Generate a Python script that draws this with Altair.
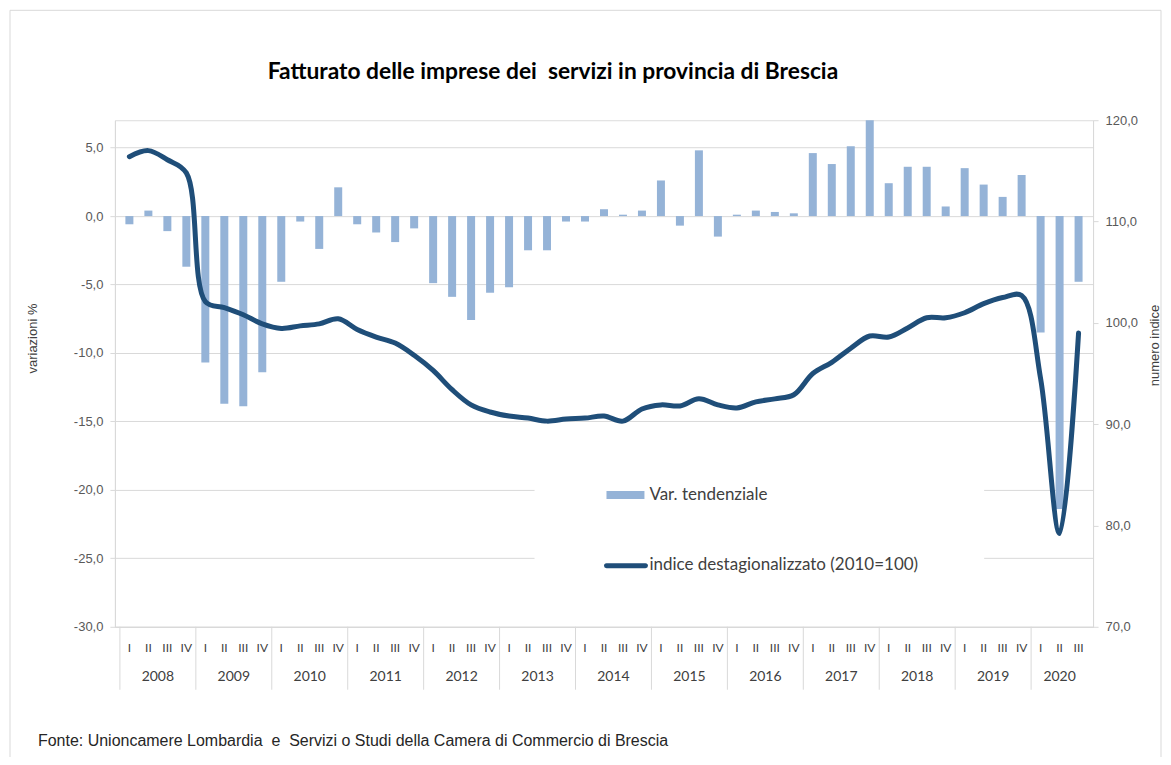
import altair as alt
import pandas as pd

# ---------------- data ----------------
years = [2008, 2009, 2010, 2011, 2012, 2013, 2014, 2015, 2016, 2017, 2018, 2019, 2020]
quarters_per_year = [4, 4, 4, 4, 4, 4, 4, 4, 4, 4, 4, 4, 3]
quarter_names = ["I", "II", "III", "IV"]

var_tendenziale = [
    -0.6, 0.4, -1.1, -3.7,      # 2008
    -10.7, -13.7, -13.9, -11.4,  # 2009
    -4.8, -0.4, -2.4, 2.1,      # 2010
    -0.6, -1.2, -1.9, -0.9,     # 2011
    -4.9, -5.9, -7.6, -5.6,     # 2012
    -5.2, -2.5, -2.5, -0.4,     # 2013
    -0.4, 0.5, 0.1, 0.4,        # 2014
    2.6, -0.7, 4.8, -1.5,       # 2015
    0.1, 0.4, 0.3, 0.2,         # 2016
    4.6, 3.8, 5.1, 7.0,         # 2017
    2.4, 3.6, 3.6, 0.7,         # 2018
    3.5, 2.3, 1.4, 3.0,         # 2019
    -8.5, -21.4, -4.8,          # 2020
]

indice = [
    116.4, 117.0, 116.1, 114.8,   # 2008
    102.1, 101.5, 100.8, 99.9,    # 2009
    99.45, 99.7, 99.9, 100.4,     # 2010
    99.35, 98.6, 98.0, 96.8,      # 2011
    95.3, 93.4, 91.9, 91.2,       # 2012
    90.8, 90.6, 90.3, 90.5,       # 2013
    90.6, 90.8, 90.3, 91.5,       # 2014
    91.9, 91.8, 92.5, 91.9,       # 2015
    91.6, 92.2, 92.5, 92.9,       # 2016
    95.0, 96.1, 97.5, 98.7,       # 2017
    98.6, 99.5, 100.5, 100.5,     # 2018
    101.0, 101.9, 102.5, 102.7,   # 2019
    94.5, 79.2, 99.0,             # 2020
]

NB = "\u00a0"
title_text = "Fatturato delle imprese dei" + NB + " servizi in provincia di Brescia"
source_text = ("Fonte: Unioncamere Lombardia" + NB + " e" + NB
               + " Servizi o Studi della Camera di Commercio di Brescia")
legend_bar = "Var. tendenziale"
legend_line = "indice destagionalizzato (2010=100)"
left_title = "variazioni %"
right_title = "numero indice"

# ---------------- tables ----------------
rows = []
i = 0
for y, nq in zip(years, quarters_per_year):
    for q in range(nq):
        rows.append({"idx": i, "year": y, "q": quarter_names[q],
                     "var": var_tendenziale[i], "ind": indice[i]})
        i += 1
df = pd.DataFrame(rows)
n = len(df)

yrows = []
start = 0
for y, nq in zip(years, quarters_per_year):
    yrows.append({"year": str(y), "center": start + (nq - 1) / 2, "start": start - 0.5})
    start += nq
ydf = pd.DataFrame(yrows)

one = pd.DataFrame([{"a": 1}])

W, H = 979, 507
xs = alt.Scale(domain=[-0.5, n - 0.5], nice=False, zero=False)
GRID = "#D9D9D9"
LAB = "#595959"

num_expr = "(datum.value < 0 ? '-' : '') + replace(format(abs(datum.value), '.1f'), '.', ',')"

left_axis = alt.Axis(values=[-30, -25, -20, -15, -10, -5, 0, 5], labelExpr=num_expr,
                     grid=True, gridColor=GRID, domainColor=GRID, tickColor=GRID,
                     tickSize=5, labelPadding=7, labelFont="Liberation Sans",
                     labelFontSize=13, labelColor=LAB, title=left_title,
                     titleFont="Liberation Sans", titleFontSize=13, titleFontWeight="normal",
                     titleColor="#404040", titleAngle=270, titleX=-82, titleY=218,
                     titleAlign="center", titleBaseline="middle")

right_axis = alt.Axis(orient="right", values=[70, 80, 90, 100, 110, 120], labelExpr=num_expr,
                      grid=False, domainColor=GRID, tickColor=GRID, tickSize=5,
                      labelPadding=7, labelFont="Liberation Sans", labelFontSize=13,
                      labelColor=LAB, title=right_title, titleFont="Liberation Sans",
                      titleFontSize=13, titleFontWeight="normal", titleColor="#404040",
                      titleAngle=270, titleX=61, titleY=225, titleAlign="center",
                      titleBaseline="middle")

x_axis = alt.Axis(labels=False, ticks=False, grid=False, domainColor=GRID, title=None)
x_enc = alt.X("idx:Q", scale=xs, axis=x_axis)

bars = alt.Chart(df).mark_bar(size=8, color="#95B3D7").encode(
    x=x_enc,
    y=alt.Y("var:Q", scale=alt.Scale(domain=[-30, 7], nice=False), axis=left_axis),
)

# legend box (white, covers gridlines)
legend_box = alt.Chart(one).mark_rect(fill="white").encode(
    x=alt.value(420), x2=alt.value(870), y=alt.value(358), y2=alt.value(458))
legend_sw1 = alt.Chart(one).mark_rect(fill="#95B3D7").encode(
    x=alt.value(492), x2=alt.value(530), y=alt.value(371), y2=alt.value(379))
legend_sw2 = alt.Chart(one).mark_rule(color="#1F4E79", strokeWidth=5, strokeCap="round").encode(
    x=alt.value(492), x2=alt.value(531), y=alt.value(446))
legend_t1 = alt.Chart(one).mark_text(text=legend_bar, align="left", baseline="middle",
                                     font="Lato", fontSize=17, color="#404040").encode(
    x=alt.value(535), y=alt.value(375))
legend_t2 = alt.Chart(one).mark_text(text=legend_line, align="left", baseline="middle",
                                     font="Lato", fontSize=17, color="#404040").encode(
    x=alt.value(535), y=alt.value(445))

line = alt.Chart(df).mark_line(color="#1F4E79", strokeWidth=5, interpolate="catmull-rom",
                               strokeCap="round", strokeJoin="round").encode(
    x=alt.X("idx:Q", scale=xs),
    y=alt.Y("ind:Q", scale=alt.Scale(domain=[70, 120], nice=False, zero=False), axis=right_axis),
)

quarter_text = alt.Chart(df).mark_text(baseline="middle", font="Lato", fontSize=12,
                                       color="#404040").encode(
    x=alt.X("idx:Q", scale=xs), y=alt.value(528), text="q:N")

year_text = alt.Chart(ydf).mark_text(baseline="middle", font="Lato", fontSize=14,
                                     color="#404040").encode(
    x=alt.X("center:Q", scale=xs), y=alt.value(557), text="year:N")

seps = alt.Chart(ydf).mark_rule(color=GRID, strokeWidth=1).encode(
    x=alt.X("start:Q", scale=xs), y=alt.value(H), y2=alt.value(H + 63))

source = alt.Chart(one).mark_text(text=source_text, align="left", baseline="middle",
                                  font="Liberation Sans", fontSize=16, color="#262626").encode(
    x=alt.value(-77), y=alt.value(621))

title = alt.Chart(one).mark_text(text=title_text, align="left", baseline="alphabetic",
                                 font="Lato", fontSize=22.8, fontWeight="bold",
                                 color="#000000").encode(
    x=alt.value(153), y=alt.value(-41))

frame = alt.Chart(one).mark_rect(fill=None, stroke=GRID, strokeWidth=1).encode(
    x=alt.value(-105), x2=alt.value(1047), y=alt.value(-110), y2=alt.value(640))

left_layer = alt.layer(frame, bars, legend_box, legend_sw1, legend_sw2, legend_t1, legend_t2,
                       quarter_text, year_text, seps, source, title)

chart = alt.layer(left_layer, line).resolve_scale(y="independent").properties(
    width=W, height=H,
    autosize=alt.AutoSizeParams(type="none"),
    padding={"left": 107, "top": 112, "right": 70, "bottom": 130},
).configure_view(stroke=GRID).configure(background="white")

chart.save("out.html", embed_options={"renderer": "svg", "actions": False})
